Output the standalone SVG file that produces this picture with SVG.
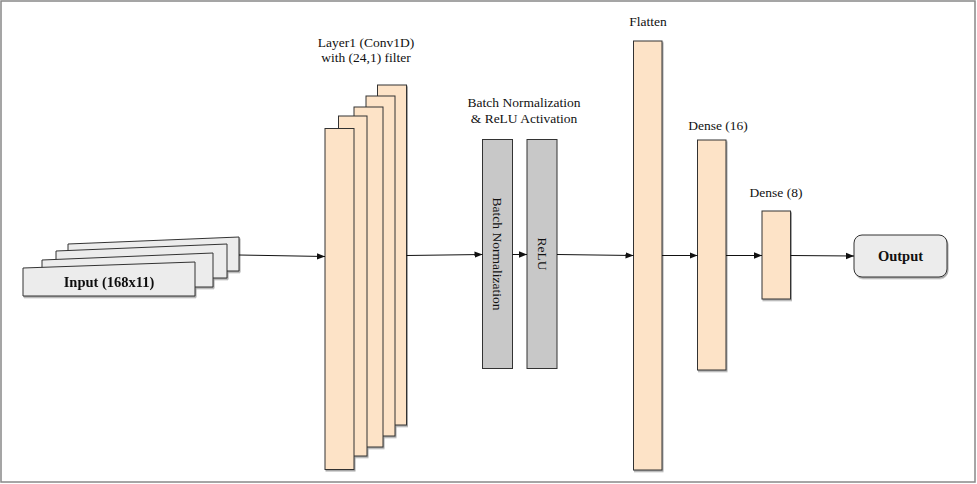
<svg xmlns="http://www.w3.org/2000/svg" width="977" height="484" viewBox="0 0 977 484">
<style>
.t{font-family:"Liberation Serif","Times New Roman",serif;font-size:13.5px;fill:#111;text-anchor:middle}
.b{font-weight:bold;font-size:14.5px}
.peach{fill:#fde3c7;stroke:#333;stroke-width:1}
.gray{fill:#c8c8c8;stroke:#333;stroke-width:1}
.inp{fill:#ececec;stroke:#333;stroke-width:1}
.edge{stroke:#111;stroke-width:1;fill:none}
</style>
<defs>
<marker id="ah" viewBox="0 0 10 10" refX="10" refY="5" markerWidth="8" markerHeight="8" markerUnits="userSpaceOnUse" orient="auto">
<path d="M0,1 L10,5 L0,9 Z" fill="#111"/>
</marker>
<filter id="sh" x="-20%" y="-5%" width="140%" height="110%">
<feDropShadow dx="1" dy="1.5" stdDeviation="0.6" flood-color="#000" flood-opacity="0.35"/>
</filter>
</defs>
<rect x="1" y="1" width="974" height="481" fill="#fff" stroke="#888" stroke-width="1.5"/>

<g id="input" filter="url(#sh)">
<polygon class="inp" points="68,244 239,237 239,271 68,271"/>
<polygon class="inp" points="56,251 227,244 227,278 56,278"/>
<polygon class="inp" points="42,260 213,253 213,287 42,287"/>
<polygon class="inp" points="23,268 195,262 195,296 23,296"/>
<text class="t b" x="109" y="287">Input (168x11)</text>
</g>

<g id="conv1d">
<g filter="url(#sh)">
<rect class="peach" x="377.5" y="85" width="29" height="340"/>
<rect class="peach" x="366" y="96" width="29" height="340"/>
<rect class="peach" x="354" y="107" width="29" height="340"/>
<rect class="peach" x="338.5" y="116" width="28.5" height="340"/>
<rect class="peach" x="325" y="128.5" width="29" height="341"/>
</g>
<text class="t" x="366" y="47">Layer1 (Conv1D)</text>
<text class="t" x="366" y="62">with (24,1) filter</text>
</g>

<g id="bn-title">
<text class="t" x="524" y="107">Batch Normalization</text>
<text class="t" x="524" y="123">&amp; ReLU Activation</text>
</g>

<g id="batchnorm">
<rect class="gray" x="482.5" y="139.5" width="30" height="229"/>
<text class="t" font-size="11.5" transform="translate(497,254) rotate(90)" y="4">Batch Normalization</text>
</g>

<g id="relu">
<rect class="gray" x="527" y="139.5" width="30" height="229"/>
<text class="t" font-size="11.5" transform="translate(541.5,254) rotate(90)" y="4">ReLU</text>
</g>

<g id="flatten">
<rect class="peach" x="633.5" y="41" width="28.5" height="429" filter="url(#sh)"/>
<text class="t" x="648" y="26">Flatten</text>
</g>

<g id="dense16">
<rect class="peach" x="697.5" y="140" width="28.5" height="230" filter="url(#sh)"/>
<text class="t" x="718" y="130">Dense (16)</text>
</g>

<g id="dense8">
<rect class="peach" x="762" y="211" width="28.5" height="88" filter="url(#sh)"/>
<text class="t" x="776" y="197">Dense (8)</text>
</g>

<g id="output">
<rect class="inp" x="854" y="235" width="93" height="42" rx="8" filter="url(#sh)"/>
<text class="t b" x="900.5" y="261">Output</text>
</g>

<g id="connectors">
<path class="edge" d="M239,255 L325,256.5" marker-end="url(#ah)"/>
<path class="edge" d="M406.5,255.5 L482.5,254.5" marker-end="url(#ah)"/>
<path class="edge" d="M512.5,254.5 L527,254.5" marker-end="url(#ah)"/>
<path class="edge" d="M557,254.5 L633.5,255.5" marker-end="url(#ah)"/>
<path class="edge" d="M662,255.5 L697.5,255.5" marker-end="url(#ah)"/>
<path class="edge" d="M726,255.5 L762,255.5" marker-end="url(#ah)"/>
<path class="edge" d="M790.5,255.5 L854,256" marker-end="url(#ah)"/>
</g>
</svg>
